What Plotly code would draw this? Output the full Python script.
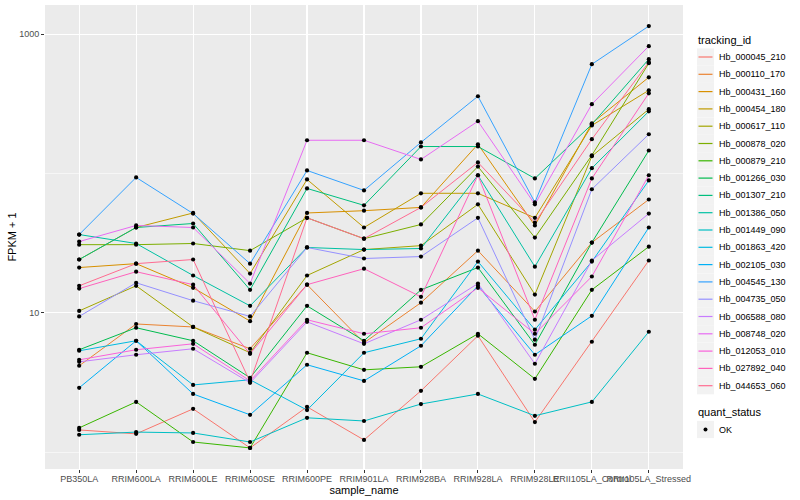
import numpy as np
import plotly.graph_objects as go

samples = ["PB350LA", "RRIM600LA", "RRIM600LE", "RRIM600SE", "RRIM600PE", "RRIM901LA",
           "RRIM928BA", "RRIM928LA", "RRIM928LE", "RRII105LA_Control", "RRII105LA_Stressed"]

tracking_ids = ["Hb_000045_210", "Hb_000110_170", "Hb_000431_160", "Hb_000454_180", "Hb_000617_110",
                "Hb_000878_020", "Hb_000879_210", "Hb_001266_030", "Hb_001307_210", "Hb_001386_050",
                "Hb_001449_090", "Hb_001863_420", "Hb_002105_030", "Hb_004545_130", "Hb_004735_050",
                "Hb_006588_080", "Hb_008748_020", "Hb_012053_010", "Hb_027892_040", "Hb_044653_060"]

colors = ["#F8766D", "#EA8331", "#D89000", "#C09B00", "#A3A500", "#7CAE00", "#39B600", "#00BB4E",
          "#00BF7D", "#00C1A3", "#00BFC4", "#00BAE0", "#00B0F6", "#35A2FF", "#9590FF", "#C77CFF",
          "#E76BF3", "#FA62DB", "#FF62BC", "#FF6C91"]

# FPKM + 1 values, one list per tracking_id, in the order of `samples`
hb_000045_210 = [1.44, 1.35, 2.04, 1.07, 2.11, 1.22, 2.75, 6.83, 1.64, 6.19, 23.7]
hb_000110_170 = [4.16, 8.3, 7.9, 5.51, 15.9, 6.08, 11.8, 27.9, 10.2, 31.9, 65]
hb_000431_160 = [21.1, 22.5, 15.1, 8.7, 52, 54, 57, 162, 42.3, 229, 490]
hb_000454_180 = [24.1, 40.9, 52, 19.1, 90.5, 40.9, 72, 72, 48, 221, 395]
hb_000617_110 = [10.3, 15.6, 7.9, 5.16, 18.5, 28.4, 30.3, 60, 13.5, 133, 289]
hb_000878_020 = [30.8, 30.8, 31.4, 27.9, 48, 34, 43, 112, 34.6, 135, 618]
hb_000879_210 = [1.49, 2.29, 1.18, 1.07, 5.16, 3.89, 4.09, 7.06, 3.35, 14.6, 29.8]
hb_001266_030 = [5.42, 7.8, 6.29, 3.41, 11.2, 6.29, 14.6, 21.1, 5.89, 31.9, 146]
hb_001307_210 = [24.1, 40.9, 43.7, 14.6, 78, 59, 156, 156, 92, 225, 661]
hb_001386_050 = [36.4, 31.4, 18.5, 11.2, 29.4, 28.4, 28.9, 97, 21.4, 109, 279]
hb_001449_090 = [1.33, 1.39, 1.37, 1.18, 1.76, 1.67, 2.21, 2.61, 1.82, 2.29, 7.3]
hb_001863_420 = [5.33, 6.29, 3.03, 3.30, 2.0, 5.16, 6.5, 23.3, 7.55, 23.3, 89]
hb_002105_030 = [2.89, 6.29, 2.61, 1.85, 4.23, 3.24, 5.79, 15.6, 4.99, 9.5, 40.9]
hb_004545_130 = [36.4, 93.6, 51.5, 22.5, 105, 75.5, 167, 358, 62, 608, 1142]
hb_004735_050 = [9.4, 16.4, 12.2, 9.4, 29.4, 24.5, 25.3, 48, 6.4, 77, 191]
hb_006588_080 = [4.44, 4.99, 5.51, 3.14, 8.6, 5.98, 8.9, 16.2, 4.30, 23.7, 51.5]
hb_008748_020 = [32.4, 42.3, 40.9, 16.2, 173, 173, 126, 237, 60, 314, 820]
hb_012053_010 = [4.59, 5.42, 5.98, 3.24, 8.9, 7.06, 7.8, 15.1, 7.06, 18.2, 97]
hb_027892_040 = [14.9, 19.7, 15.9, 5.07, 15.9, 20.7, 13.0, 97, 8.9, 92, 376]
hb_044653_060 = [15.6, 22.5, 24.1, 3.19, 48, 34, 57, 120, 44.4, 176, 629]

series = [hb_000045_210, hb_000110_170, hb_000431_160, hb_000454_180, hb_000617_110,
          hb_000878_020, hb_000879_210, hb_001266_030, hb_001307_210, hb_001386_050,
          hb_001449_090, hb_001863_420, hb_002105_030, hb_004545_130, hb_004735_050,
          hb_006588_080, hb_008748_020, hb_012053_010, hb_027892_040, hb_044653_060]

quant_status = "OK"

FONT = "Liberation Sans, Arial, sans-serif"
W, H = 800, 500
ML, MR, MT, MB = 45, 117, 5, 31

fig = go.Figure()
for name, col, vals in zip(tracking_ids, colors, series):
    fig.add_trace(go.Scatter(x=samples, y=vals, mode="lines", name=name,
                             line=dict(color=col, width=1), showlegend=False,
                             hoverinfo="skip"))

all_x = [s for vals in series for s in samples]
all_y = [v for vals in series for v in vals]
fig.add_trace(go.Scatter(x=all_x, y=all_y, mode="markers", name=quant_status,
                         marker=dict(color="black", size=4.2, symbol="circle"),
                         showlegend=False, hoverinfo="skip"))

lo = np.log10(min(all_y)); hi = np.log10(max(all_y))
pad = 0.05 * (hi - lo)

fig.update_layout(
    width=W, height=H,
    margin=dict(l=ML, r=MR, t=MT, b=MB, autoexpand=False),
    paper_bgcolor="white", plot_bgcolor="#EBEBEB",
    font=dict(family=FONT, color="black"),
    showlegend=False, hovermode=False,
)
fig.update_xaxes(
    type="category", categoryorder="array", categoryarray=samples,
    range=[-0.6, len(samples) - 0.4],
    showgrid=True, gridcolor="white", gridwidth=1.1, zeroline=False, showline=False,
    ticks="outside", ticklen=3, tickcolor="#333333", tickwidth=1, tickangle=0,
    tickfont=dict(size=9, color="#4D4D4D", family=FONT), ticklabelstandoff=-2,
    title=dict(text="sample_name", font=dict(size=11, color="black"), standoff=2),
)
fig.update_yaxes(
    type="log", range=[lo - pad, hi + pad],
    tickvals=[10, 1000], ticktext=["10", "1000"],
    showgrid=True, gridcolor="white", gridwidth=1.1, zeroline=False, showline=False,
    ticks="outside", ticklen=3, tickcolor="#333333", tickwidth=1,
    tickfont=dict(size=9, color="#4D4D4D", family=FONT),
    minor=dict(tickvals=[1, 100], showgrid=True, gridcolor="white", gridwidth=0.55, ticks=""),
    title=dict(text="FPKM + 1", font=dict(size=11, color="black"), standoff=0),
)

# ggplot-style legend drawn in paper coordinates
pw = W - ML - MR
ph = H - MT - MB
def px(xp):
    return (xp - ML) / pw
def py(yp):
    return (H - MB - yp) / ph

shapes = []
annots = []
key_x0, key_x1 = 697, 714
text_x = 717
annots.append(dict(x=px(696), y=py(40), xref="paper", yref="paper", text="tracking_id",
                   showarrow=False, xanchor="left", yanchor="middle",
                   font=dict(size=11, color="black", family=FONT)))
for i, (name, col) in enumerate(zip(tracking_ids, colors)):
    cy = 57 + i * 17.3
    shapes.append(dict(type="rect", xref="paper", yref="paper", x0=px(key_x0), x1=px(key_x1),
                       y0=py(cy - 8.6), y1=py(cy + 8.6), fillcolor="#F2F2F2", line=dict(width=0),
                       layer="above"))
    shapes.append(dict(type="line", xref="paper", yref="paper", x0=px(698.5), x1=px(712.5),
                       y0=py(cy), y1=py(cy), line=dict(color=col, width=1.2), layer="above"))
    annots.append(dict(x=px(text_x), y=py(cy), xref="paper", yref="paper", text=name,
                       showarrow=False, xanchor="left", yanchor="middle",
                       font=dict(size=9, color="black", family=FONT)))

annots.append(dict(x=px(696), y=py(412), xref="paper", yref="paper", text="quant_status",
                   showarrow=False, xanchor="left", yanchor="middle",
                   font=dict(size=11, color="black", family=FONT)))
cy = 429.5
shapes.append(dict(type="rect", xref="paper", yref="paper", x0=px(key_x0), x1=px(key_x1),
                   y0=py(cy - 8.6), y1=py(cy + 8.6), fillcolor="#F2F2F2", line=dict(width=0),
                   layer="above"))
shapes.append(dict(type="circle", xref="paper", yref="paper", x0=px(703.5), x1=px(707.5),
                   y0=py(cy - 2), y1=py(cy + 2), fillcolor="black", line=dict(width=0),
                   layer="above"))
annots.append(dict(x=px(text_x), y=py(cy), xref="paper", yref="paper", text=quant_status,
                   showarrow=False, xanchor="left", yanchor="middle",
                   font=dict(size=9, color="black", family=FONT)))

fig.update_layout(shapes=shapes, annotations=annots)
fig.write_html("out.html", config={"displayModeBar": False, "staticPlot": True},
               post_script="document.body.style.margin='0';document.body.style.overflow='hidden';")
